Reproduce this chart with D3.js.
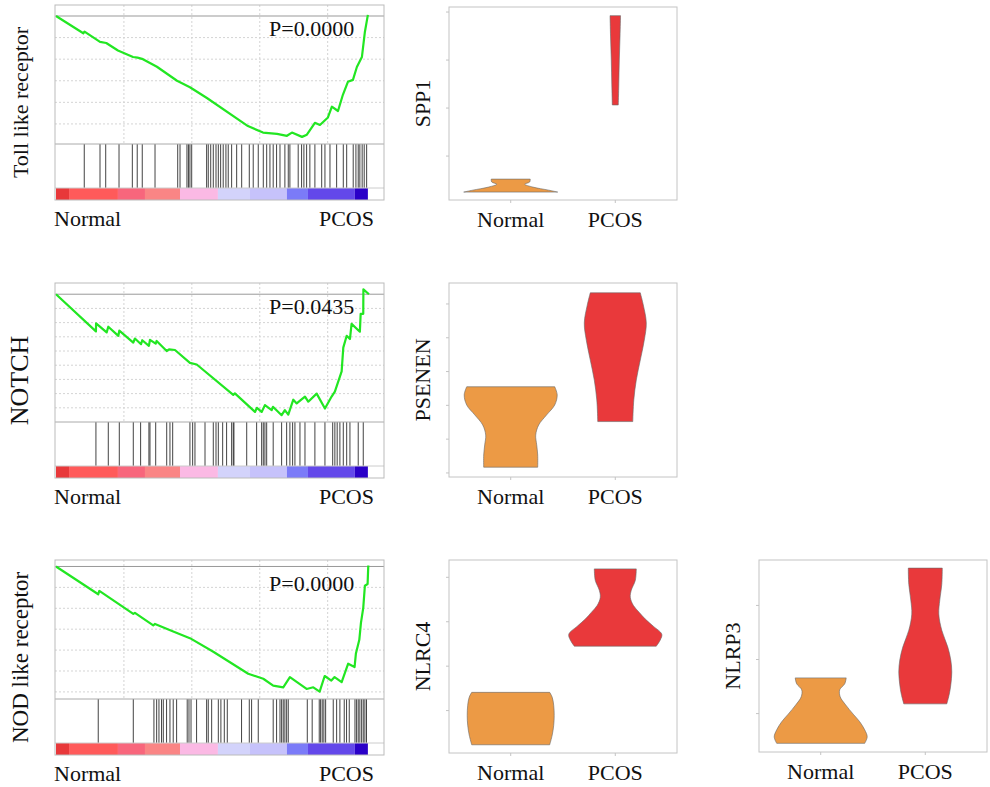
<!DOCTYPE html>
<html>
<head>
<meta charset="utf-8">
<script src="https://cdn.jsdelivr.net/npm/d3@7"></script>
<style>
  body { margin: 0; background: #fff; }
  svg { display: block; }
  svg text { font-family: 'Liberation Serif', 'Times New Roman', Times, serif; fill: #111; }
</style>
</head>
<body>
<div id="chart"></div>
<script>
// ---- GSEA data (ranks in thousands of genes, running enrichment score) ----
var groups = ["Normal", "PCOS"];
var pathwayNames = ["Toll like receptor", "NOTCH", "NOD like receptor"];
var pValues = ["P=0.0000", "P=0.0435", "P=0.0000"];
var rankDomain = [0, 24];
var rankGrid = [5, 10, 15, 20];

var tollCurve = [[0,0],[2.01,-0.08],[2.1,-0.072],[3.24,-0.12],[3.7,-0.125],[4.56,-0.16],[5.67,-0.19],[6.0,-0.193],
  [6.4,-0.2],[7.43,-0.235],[8.91,-0.30],[9.86,-0.33],[11.11,-0.38],[14.13,-0.51],[15.24,-0.54],[16.27,-0.546],
  [17.0,-0.555],[17.37,-0.54],[18.11,-0.56],[18.47,-0.55],[19.06,-0.495],[19.43,-0.505],[20.02,-0.47],[20.31,-0.42],
  [20.76,-0.44],[21.12,-0.365],[21.49,-0.305],[21.86,-0.296],[22.15,-0.236],[22.52,-0.19],[22.74,-0.074],[22.96,0.005]];
var tollHits = [2.08,3.24,3.66,4.64,5.62,5.98,6.35,7.29,8.96,9.13,9.64,9.75,9.86,9.99,11.09,11.21,11.39,11.58,11.78,
  11.95,12.12,12.31,12.51,12.68,12.93,13.30,13.67,14.23,14.52,14.89,15.26,15.51,15.75,15.99,16.24,16.49,16.85,17.10,
  17.22,17.83,18.08,18.25,18.45,18.69,19.06,19.56,19.80,20.17,20.66,21.15,21.40,21.88,22.08,22.25,22.37,22.54,22.69,22.87];

var notchCurve = [[0,0],[2.94,-0.262],[2.95,-0.205],[3.73,-0.269],[3.85,-0.229],[4.59,-0.293],[4.66,-0.257],
  [5.69,-0.341],[5.81,-0.312],[6.26,-0.352],[6.35,-0.324],[6.84,-0.364],[6.92,-0.321],[7.34,-0.348],[7.41,-0.329],
  [8.15,-0.4],[8.32,-0.389],[8.76,-0.393],[9.86,-0.484],[10.36,-0.495],[13.05,-0.709],[13.17,-0.698],[14.65,-0.829],
  [14.79,-0.8],[15.14,-0.829],[15.38,-0.781],[15.88,-0.816],[15.97,-0.793],[16.61,-0.852],[16.85,-0.816],
  [17.10,-0.848],[17.47,-0.743],[17.72,-0.769],[18.33,-0.721],[18.57,-0.757],[19.19,-0.7],[19.80,-0.805],
  [20.29,-0.721],[20.53,-0.686],[21.03,-0.543],[21.15,-0.376],[21.40,-0.293],[21.64,-0.316],[21.76,-0.209],
  [22.37,-0.264],[22.43,-0.138],[22.62,-0.138],[22.63,0.034],[23.04,0]];
var notchHits = [2.94,3.85,4.66,5.69,6.23,6.84,6.92,7.34,8.15,8.39,8.59,9.86,10.06,10.23,10.97,11.58,11.78,11.95,
  12.27,12.56,12.93,13.05,13.1,14.04,14.77,15.14,15.26,15.38,15.51,15.99,16.61,16.98,17.22,17.42,17.59,17.96,18.33,
  19.06,19.8,20.37,20.53,20.70,20.9,21.15,21.40,21.64,22.25,22.62];

var nodCurve = [[0,0],[3.11,-0.133],[3.19,-0.117],[5.69,-0.227],[5.81,-0.222],[7.16,-0.282],[7.29,-0.275],
  [8.63,-0.311],[9.86,-0.343],[11.58,-0.408],[14.15,-0.513],[15.26,-0.537],[15.99,-0.57],[16.73,-0.578],
  [17.22,-0.529],[18.45,-0.586],[18.94,-0.578],[19.41,-0.599],[19.78,-0.524],[20.27,-0.546],[20.51,-0.529],
  [21.03,-0.553],[21.25,-0.513],[21.51,-0.465],[21.98,-0.481],[22.08,-0.416],[22.33,-0.351],[22.45,-0.27],
  [22.62,-0.198],[22.74,-0.092],[22.94,-0.084],[22.99,0.005]];
var nodHits = [3.11,5.69,7.21,7.41,7.58,7.77,7.90,8.14,8.39,8.63,8.88,9.66,9.79,9.94,10.35,11.09,11.21,11.46,11.95,
  12.14,12.39,12.61,13.66,14.23,14.40,14.89,15.99,16.24,16.49,16.61,16.73,16.85,16.98,17.10,18.50,18.86,19.38,19.48,
  19.60,19.72,19.85,20.41,20.66,20.90,21.22,21.39,21.59,22.01,22.13,22.25,22.37,22.50,22.62,22.74,22.86];

var gseaCurves = [tollCurve, notchCurve, nodCurve];
var gseaHits = [tollHits, notchHits, nodHits];
var esDomains = [[-0.593, 0.051], [-0.9, 0.079], [-0.634, 0.031]];

// ranked list colour bar
var rankBreaks = [0, 0.96, 4.56, 6.55, 9.13, 11.92, 14.28, 17.0, 18.55, 22.0, 22.96];
var rankColors = ["#e8383a", "#ff5a5a", "#f8667c", "#fa8585", "#fbb9e4", "#d3d3fb", "#c6c2fb", "#7b7bf8", "#6348ea", "#2a00c8"];

// ---- violin data: [expression value, relative density] ----
var violinGenes = ["SPP1", "PSENEN", "NLRC4", "NLRP3"];
var spp1Normal = [[0.5,0.94],[0.58,0.76],[0.71,0.44],[0.83,0.28],[0.92,0.38],[1.04,0.39]];
var spp1Pcos = [[4.13,0.06],[5,0.07],[6,0.08],[7,0.095],[7.85,0.105]];
var psenenNormal = [[1.17,0.54],[1.53,0.54],[1.83,0.52],[2.12,0.5],[2.42,0.56],[2.72,0.72],[3.01,0.88],[3.31,0.93],[3.55,0.88]];
var psenenPcos = [[2.52,0.35],[3.16,0.37],[3.75,0.42],[4.34,0.5],[4.93,0.58],[5.44,0.62],[5.97,0.56],[6.33,0.5]];
var nlrc4Normal = [[0.23,0.78],[0.45,0.83],[0.67,0.86],[0.89,0.87],[1.12,0.86],[1.30,0.83],[1.41,0.78]];
var nlrc4Pcos = [[2.45,0.82],[2.59,0.9],[2.72,0.93],[2.90,0.76],[3.06,0.6],[3.21,0.48],[3.37,0.36],[3.55,0.3],[3.71,0.32],[3.93,0.4],[4.19,0.42]];
var nlrp3Normal = [[0.45,0.88],[0.57,0.93],[0.70,0.88],[0.85,0.78],[0.99,0.65],[1.16,0.5],[1.31,0.39],[1.44,0.38],[1.55,0.48],[1.66,0.51]];
var nlrp3Pcos = [[1.18,0.43],[1.36,0.48],[1.53,0.51],[1.77,0.53],[1.99,0.51],[2.23,0.45],[2.54,0.33],[2.84,0.27],[3.10,0.29],[3.39,0.33],[3.69,0.34]];
var violinData = [[spp1Normal, spp1Pcos], [psenenNormal, psenenPcos], [nlrc4Normal, nlrc4Pcos], [nlrp3Normal, nlrp3Pcos]];
var violinDomains = [[0.17, 8.21], [0.88, 6.62], [0.045, 4.39], [0.29, 3.84]];
var violinTicks = [[2, 4, 6, 8], [1, 2, 3, 4, 5, 6], [1, 2, 3, 4], [1, 2, 3]];
var groupColors = ["#ec9a45", "#e9393b"];

var serif = "'Liberation Serif', 'Times New Roman', Times, serif";
var svg = d3.select('#chart').append('svg')
    .attr('width', 990).attr('height', 787)
    .attr('font-family', serif);

// ---- GSEA panels ----
var gseaTops = [5, 283, 560];
var labelSizes = [22, 26, 23];

gseaTops.forEach(function(top, i){
  var boxL = 55, boxR = 384, bottom = top + 195;
  var divider = top + 139, barTop = bottom - 12;
  var x = d3.scaleLinear().domain(rankDomain).range([56, 382]);
  var y = d3.scaleLinear().domain(esDomains[i]).range([divider, top]);
  var g = svg.append('g');

  var esGrid = d3.range(-0.1, esDomains[i][0], -0.1);

  g.selectAll('line.vgrid').data(rankGrid).join('line')
    .attr('x1', d => x(d)).attr('x2', d => x(d))
    .attr('y1', top).attr('y2', divider)
    .attr('stroke', '#d4d4d4').attr('stroke-dasharray', '2,2');
  g.selectAll('line.hgrid').data(esGrid).join('line')
    .attr('x1', boxL).attr('x2', boxR)
    .attr('y1', d => y(d)).attr('y2', d => y(d))
    .attr('stroke', '#d4d4d4').attr('stroke-dasharray', '2,2');

  // zero line
  g.append('line').attr('x1', boxL).attr('x2', boxR).attr('y1', y(0)).attr('y2', y(0))
    .attr('stroke', '#999');

  // hits
  g.selectAll('line.hit').data(gseaHits[i]).join('line')
    .attr('x1', d => x(d)).attr('x2', d => x(d))
    .attr('y1', divider).attr('y2', barTop)
    .attr('stroke', '#222').attr('stroke-width', 1).attr('stroke-opacity', 0.85);

  // rank colour bar
  g.selectAll('rect.rank').data(rankColors).join('rect')
    .attr('x', (d, j) => x(rankBreaks[j]))
    .attr('width', (d, j) => x(rankBreaks[j + 1]) - x(rankBreaks[j]))
    .attr('y', barTop).attr('height', bottom - barTop)
    .attr('fill', d => d);
  g.append('line').attr('x1', boxL).attr('x2', boxR).attr('y1', barTop).attr('y2', barTop)
    .attr('stroke', '#ccc');

  // running ES
  var line = d3.line().x(d => x(d[0])).y(d => y(d[1]));
  g.append('path').datum(gseaCurves[i]).attr('d', line)
    .attr('fill', 'none').attr('stroke', '#22e622').attr('stroke-width', 2.2)
    .attr('stroke-linejoin', 'round');

  g.append('line').attr('x1', boxL).attr('x2', boxR).attr('y1', divider).attr('y2', divider)
    .attr('stroke', '#aaa');
  g.append('rect').attr('x', boxL).attr('y', top).attr('width', boxR - boxL).attr('height', bottom - top)
    .attr('fill', 'none').attr('stroke', '#bbb');

  g.append('text').attr('x', 269).attr('y', top + 31).attr('font-size', 22).text(pValues[i]);
  g.append('text')
    .attr('transform', 'translate(28,' + (top + bottom) / 2 + ') rotate(-90)')
    .attr('text-anchor', 'middle').attr('font-size', labelSizes[i])
    .text(pathwayNames[i]);
  g.append('text').attr('x', 54).attr('y', bottom + 26).attr('font-size', 22).text(groups[0]);
  g.append('text').attr('x', 374).attr('y', bottom + 26).attr('text-anchor', 'end')
    .attr('font-size', 22).text(groups[1]);
});

// ---- violin panels ----
var violinBoxes = [
  {x: 449, y: 7, w: 228, h: 193},
  {x: 449, y: 283, w: 228, h: 194},
  {x: 449, y: 560, w: 228, h: 193},
  {x: 759, y: 560, w: 228, h: 192}
];
var width = d3.scaleLinear().domain([0, 1]).range([0, 50]);

violinBoxes.forEach(function(b, i){
  var g = svg.append('g');
  var bottom = b.y + b.h;
  var y = d3.scaleLinear().domain(violinDomains[i]).range([bottom, b.y]);
  var xc = d3.scalePoint().domain(groups).range([b.x, b.x + b.w]).padding(0.59);

  g.append('rect').attr('x', b.x).attr('y', b.y).attr('width', b.w).attr('height', b.h)
    .attr('fill', 'none').attr('stroke', '#c4c4c4');
  g.selectAll('line.ytick').data(violinTicks[i]).join('line')
    .attr('x1', b.x - 3).attr('x2', b.x).attr('y1', d => y(d)).attr('y2', d => y(d))
    .attr('stroke', '#c4c4c4');
  g.selectAll('line.xtick').data(groups).join('line')
    .attr('x1', d => xc(d)).attr('x2', d => xc(d)).attr('y1', bottom).attr('y2', bottom + 3)
    .attr('stroke', '#c4c4c4');

  groups.forEach(function(grp, k){
    var cx = xc(grp);
    var area = d3.area().curve(d3.curveCatmullRom)
      .y(d => y(d[0]))
      .x0(d => cx - width(d[1]))
      .x1(d => cx + width(d[1]));
    g.append('path').datum(violinData[i][k]).attr('d', area)
      .attr('fill', groupColors[k]).attr('stroke', '#666').attr('stroke-width', 0.6);
    g.append('text').attr('x', cx).attr('y', bottom + 27).attr('text-anchor', 'middle')
      .attr('font-size', 22).text(grp);
  });

  g.append('text')
    .attr('transform', 'translate(' + (b.x - 19) + ',' + (b.y + b.h / 2) + ') rotate(-90)')
    .attr('text-anchor', 'middle').attr('font-size', 22)
    .text(violinGenes[i]);
});
</script>
</body>
</html>
